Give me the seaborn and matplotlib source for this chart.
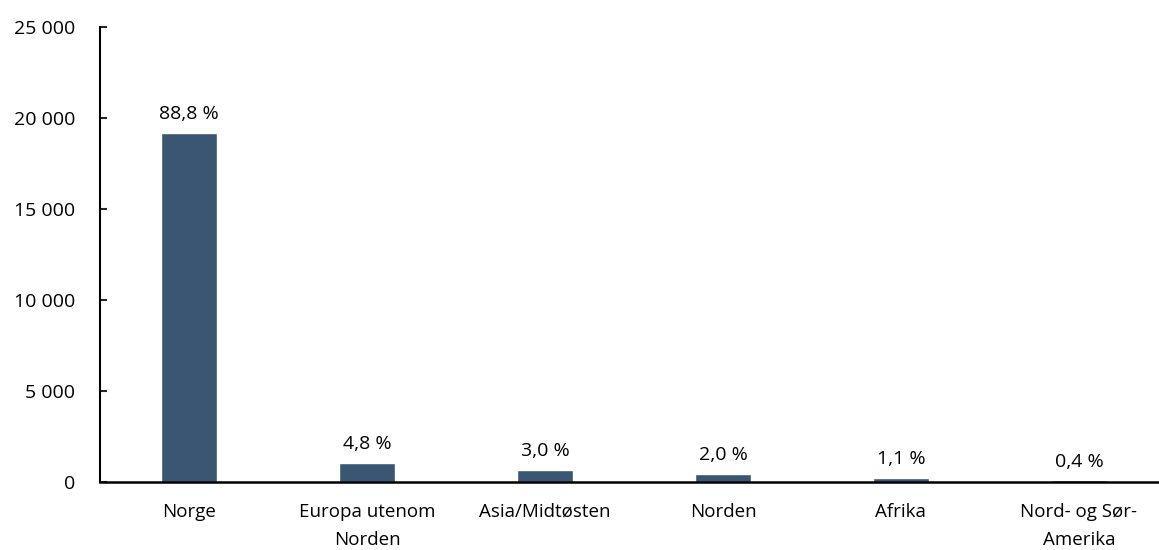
import numpy as np
import pandas as pd
import matplotlib
matplotlib.use('Agg')
import matplotlib.pyplot as plt
import seaborn as sns

#%% Data
regions = ['Norge', 'Europa utenom\nNorden', 'Asia/Midtøsten', 'Norden',
           'Afrika', 'Nord- og Sør-\nAmerika']
counts = [19180, 1035, 650, 430, 235, 90]
shares = ['88,8 %', '4,8 %', '3,0 %', '2,0 %', '1,1 %', '0,4 %']
y_ticks = [0, 5000, 10000, 15000, 20000, 25000]

df = pd.DataFrame({'region': regions, 'count': counts})

sns.set_style('white')
plt.rcParams['font.family'] = ['Open Sans', 'DejaVu Sans']

fig = plt.figure(figsize=(11.59, 5.5), dpi=100)
ax = fig.add_axes([100/1159, 68/550, 1 - 100/1159, (482-27)/550])

sns.barplot(data=df, x='region', y='count', color='#3B5673',
            width=0.315, saturation=1, ax=ax)

# share labels above each bar
for i, (v, s) in enumerate(zip(counts, shares)):
    ax.annotate(s, (i, v), xytext=(0, 7), textcoords='offset points',
                ha='center', va='bottom', fontsize=14, color='black')

ax.set_ylim(0, 25000)
ax.set_xlim(-0.5, 5.45)
ax.set_yticks(y_ticks)
ax.set_yticklabels([f'{t:,}'.replace(',', ' ') for t in y_ticks])
ax.set_xlabel('')
ax.set_ylabel('')

for side in ['top', 'right']:
    ax.spines[side].set_visible(False)
ax.spines['left'].set_linewidth(1.5)
ax.spines['bottom'].set_linewidth(1.8)
ax.spines['left'].set_color('black')
ax.spines['bottom'].set_color('black')

ax.tick_params(axis='y', direction='in', length=5, width=1.5,
               pad=18, labelsize=14, left=True, labelcolor='black')
ax.tick_params(axis='x', length=0, pad=15, labelsize=13.5, labelcolor='black')
for lab in ax.get_xticklabels():
    lab.set_linespacing(1.7)

fig.savefig('out.png', dpi=100)
